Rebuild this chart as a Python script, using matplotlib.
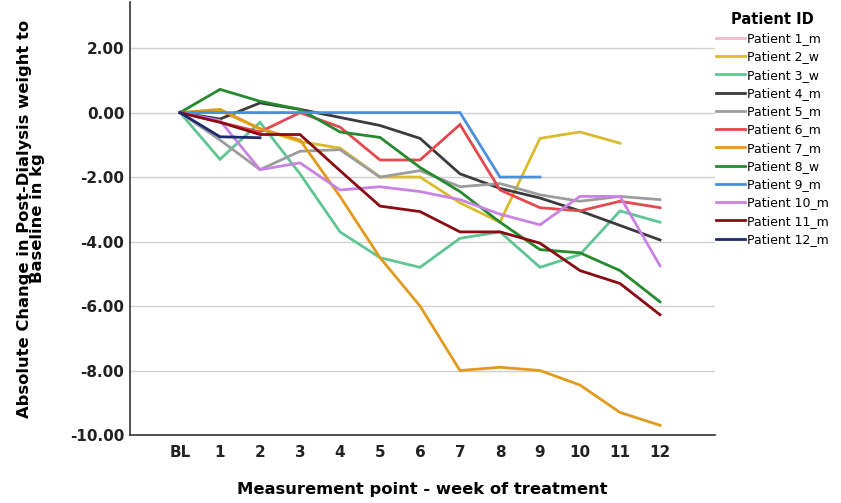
"""Post-dialysis weight change per patient over the treatment weeks."""
import numpy as np
import matplotlib
matplotlib.use("Agg")
import matplotlib.pyplot as plt

plt.rcParams["font.family"] = ["DejaVu Sans"]

weeks = ["BL", "1", "2", "3", "4", "5", "6", "7", "8", "9", "10", "11", "12"]

# Absolute change to baseline (kg), one list per patient, starting at BL
p1_m = [0.0]
p2_w = [0.0, 0.05, -0.5, -0.9, -1.1, -2.0, -2.0, -2.8, -3.4, -0.8, -0.6, -0.95]
p3_w = [0.0, -1.45, -0.3, -1.9, -3.7, -4.5, -4.8, -3.9, -3.7, -4.8, -4.4, -3.05, -3.4]
p4_m = [0.0, -0.2, 0.3, 0.1, -0.15, -0.4, -0.8, -1.9, -2.35, -2.65, -3.05, -3.5, -3.95]
p5_m = [0.0, -0.85, -1.77, -1.2, -1.15, -2.0, -1.8, -2.3, -2.2, -2.55, -2.75, -2.6, -2.7]
p6_m = [0.0, -0.3, -0.6, 0.0, -0.45, -1.47, -1.47, -0.37, -2.4, -2.95, -3.05, -2.75, -2.95]
p7_m = [0.0, 0.1, -0.5, -0.85, -2.6, -4.5, -6.0, -8.0, -7.9, -8.0, -8.45, -9.3, -9.7]
p8_w = [0.0, 0.72, 0.35, 0.1, -0.6, -0.77, -1.7, -2.45, -3.4, -4.25, -4.35, -4.9, -5.87]
p9_m = [0.0, 0.0, 0.0, 0.0, 0.0, 0.0, 0.0, 0.0, -2.0, -2.0]
p10_m = [0.0, -0.25, -1.77, -1.56, -2.4, -2.3, -2.45, -2.7, -3.15, -3.48, -2.6, -2.6, -4.75]
p11_m = [0.0, -0.3, -0.68, -0.68, -1.8, -2.9, -3.07, -3.7, -3.7, -4.05, -4.9, -5.3, -6.27]
p12_m = [0.0, -0.75, -0.78]

patients = [
    ("Patient 1_m", p1_m, "#f6b8cb"),
    ("Patient 2_w", p2_w, "#d9bb2b"),
    ("Patient 3_w", p3_w, "#5ec593"),
    ("Patient 4_m", p4_m, "#3b3b3f"),
    ("Patient 5_m", p5_m, "#9c9c9c"),
    ("Patient 6_m", p6_m, "#e5484d"),
    ("Patient 7_m", p7_m, "#e29a1c"),
    ("Patient 8_w", p8_w, "#258a2d"),
    ("Patient 9_m", p9_m, "#4b8fdb"),
    ("Patient 10_m", p10_m, "#c883e3"),
    ("Patient 11_m", p11_m, "#8a0c12"),
    ("Patient 12_m", p12_m, "#1d2a6e"),
]

fig = plt.figure(figsize=(8.41, 5.03), dpi=100)
ax = fig.add_axes([130 / 841, 1 - 435 / 503, 585 / 841, 433 / 503])

for lbl, vals, color in patients:
    x = np.arange(len(vals))
    ax.plot(x, vals, color=color, linewidth=2.0, label=lbl, solid_joinstyle="miter")

ax.set_xlim(-1.25, 13.375)
ax.set_ylim(-10.0, 3.43)
ax.set_yticks(np.arange(-10, 3, 2))
ax.set_yticklabels([f"{v:.2f}" for v in np.arange(-10, 3, 2)])
ax.set_xticks(np.arange(len(weeks)))
ax.set_xticklabels(weeks)
ax.tick_params(axis="both", length=0, labelsize=11, colors="#222222")
ax.tick_params(axis="x", pad=7)
ax.tick_params(axis="y", pad=4)
for t in ax.get_xticklabels() + ax.get_yticklabels():
    t.set_fontweight("semibold")

ax.grid(axis="y", color="#cfcfcf", linewidth=1.0)
ax.set_axisbelow(True)
for side in ["top", "right"]:
    ax.spines[side].set_visible(False)
for side in ["left", "bottom"]:
    ax.spines[side].set_color("#333333")
    ax.spines[side].set_linewidth(1.2)

ax.set_ylabel("Absolute Change in Post-Dialysis weight to\nBaseline in kg",
              fontsize=11.8, fontweight="bold", linespacing=0.85, labelpad=18)
ax.set_xlabel("Measurement point - week of treatment",
              fontsize=11.8, fontweight="bold", labelpad=16)

leg = ax.legend(loc="upper left", bbox_to_anchor=(716 / 841, 1 - 12 / 503),
                bbox_transform=fig.transFigure, frameon=False, fontsize=9,
                title="Patient ID", handlelength=2.3, handletextpad=0.2,
                labelspacing=0.42, borderpad=0, borderaxespad=0)
leg.get_title().set_fontweight("bold")
leg.get_title().set_fontsize(10.5)

fig.savefig("out.png", dpi=100)
